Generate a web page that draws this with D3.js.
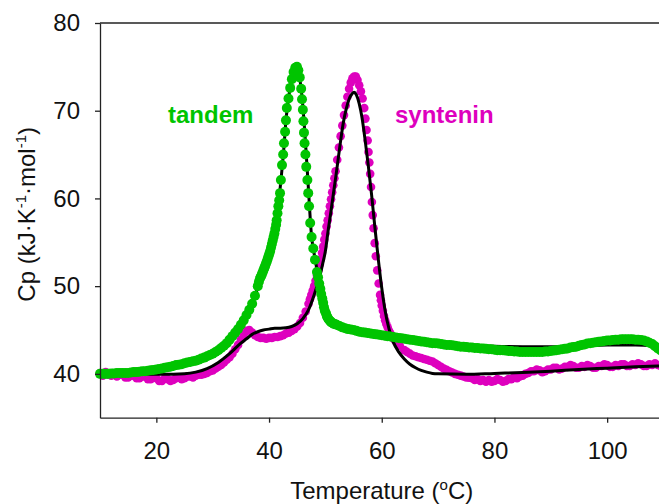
<!DOCTYPE html>
<html>
<head>
<meta charset="utf-8">
<script src="https://cdn.jsdelivr.net/npm/d3@7"></script>
<style>
  html, body { margin: 0; padding: 0; background: #fff; }
  svg { display: block; }
  text { font-family: "Liberation Sans", Arial, sans-serif; }
</style>
</head>
<body>
<svg id="chart" width="659" height="504"></svg>
<script>
// ---- data ----
const xTicks = [20, 40, 60, 80, 100];
const yTicks = [40, 50, 60, 70, 80];
const seriesNames = ["tandem", "syntenin"];

const tandemT = [10,10.5,11,11.5,12,12.5,13,13.5,14,14.5,15,15.5,16,16.5,17,17.5,18,18.5,19,19.5,20,20.5,21,21.5,22,22.5,23,23.5,24,24.5,25,25.5,26,26.5,27,27.5,28,28.5,29,29.5,30,30.5,31,31.5,32,32.5,33,33.5,34,34.5,35,35.5,36,36.5,37,37.5,38,38.2,38.4,38.55,38.7,38.85,39.0,39.15,39.3,39.45,39.6,39.75,39.9,40.05,40.2,40.35,40.5,40.65,40.8,40.95,41.1,41.25,41.35,41.5,41.65,41.8,41.95,42.1,42.3,42.5,42.65,42.85,43.0,43.15,43.45,43.75,44.05,44.35,44.65,44.95,45.2,45.45,45.7,45.85,46.0,46.1,46.2,46.3,46.45,46.6,46.8,46.95,47.1,47.3,47.55,47.85,48.15,48.5,48.7,48.9,49.1,49.25,49.45,49.6,49.75,49.9,50.1,50.25,50.4,50.6,50.8,51.0,51.25,51.5,51.75,52,52.5,53,53.5,54,54.5,55,55.5,56,56.5,57,57.5,58,58.5,59,59.5,60,60.5,61,61.5,62,62.5,63,63.5,64,64.5,65,65.5,66,66.5,67,67.5,68,68.5,69,69.5,70,70.5,71,71.5,72,72.5,73,73.5,74,74.5,75,75.5,76,76.5,77,77.5,78,78.5,79,79.5,80,80.5,81,81.5,82,82.5,83,83.5,84,84.5,85,85.5,86,86.5,87,87.5,88,88.5,89,89.5,90,90.5,91,91.5,92,92.5,93,93.5,94,94.5,95,95.5,96,96.5,97,97.5,98,98.5,99,99.5,100,100.5,101,101.5,102,102.5,103,103.5,104,104.5,105,105.5,106,106.5,107,107.5,108,108.5,109,109.5,110];
const tandemCp = [40.0,40.0,40.0,40.0,40.05,40.05,40.1,40.1,40.1,40.1,40.1,40.15,40.2,40.2,40.25,40.3,40.3,40.35,40.4,40.45,40.5,40.55,40.6,40.7,40.75,40.8,40.9,41.0,41.05,41.1,41.2,41.3,41.35,41.45,41.5,41.6,41.75,41.85,42.0,42.15,42.3,42.5,42.7,42.95,43.2,43.5,43.9,44.3,44.7,45.1,45.6,46.1,46.7,47.3,48.0,48.9,50.0,50.5,50.9,51.1,51.3,51.55,51.8,52.05,52.3,52.55,52.8,53.1,53.4,53.7,54.0,54.4,54.8,55.2,55.6,56.0,56.5,57.0,57.5,58.3,59.1,59.8,60.6,62.1,63.8,65.0,66.3,67.6,68.9,70.3,71.4,72.6,73.6,74.4,74.9,75.0,74.6,73.8,72.5,71.3,70.1,68.8,67.5,66.3,65.0,63.6,62.1,60.6,59.1,57.2,55.6,54.3,53.0,51.6,51.0,50.3,49.7,49.1,48.6,48.1,47.6,47.2,46.9,46.6,46.4,46.2,46.05,45.9,45.8,45.7,45.65,45.6,45.45,45.3,45.2,45.1,45.05,45.0,44.9,44.8,44.75,44.7,44.65,44.6,44.55,44.5,44.45,44.4,44.35,44.3,44.25,44.2,44.15,44.1,44.05,44.0,43.95,43.9,43.85,43.8,43.75,43.7,43.65,43.6,43.55,43.5,43.5,43.45,43.4,43.35,43.3,43.3,43.25,43.2,43.15,43.1,43.1,43.05,43.0,43.0,42.95,42.95,42.9,42.9,42.85,42.8,42.8,42.75,42.7,42.7,42.7,42.65,42.6,42.6,42.55,42.55,42.5,42.5,42.5,42.5,42.5,42.5,42.5,42.5,42.5,42.55,42.55,42.6,42.65,42.7,42.75,42.8,42.85,42.9,43.0,43.05,43.1,43.2,43.3,43.35,43.45,43.5,43.55,43.6,43.65,43.7,43.75,43.8,43.8,43.85,43.9,43.9,43.95,43.95,43.95,43.95,43.95,43.9,43.9,43.85,43.8,43.7,43.55,43.4,43.15,42.9,42.7,42.5];

const synteninT = [10,10.5,11,11.5,12,12.5,13,13.5,14,14.5,15,15.5,16,16.5,17,17.5,18,18.5,19,19.5,20,20.5,21,21.5,22,22.5,23,23.5,24,24.5,25,25.5,26,26.5,27,27.5,28,28.5,29,29.5,30,30.5,31,31.5,32,32.5,33,33.5,34,34.5,35,35.5,36,36.5,37,37.5,38,38.5,39,39.5,40,40.5,41,41.5,42,42.5,43,43.5,44,44.5,45,45.5,46,46.5,47,47.25,47.5,47.75,48,48.25,48.5,48.75,49,49.2,49.4,49.6,49.8,50.0,50.2,50.4,50.6,50.8,51.0,51.2,51.4,51.6,51.8,52.1,52.4,52.7,53.0,53.3,53.6,53.9,54.2,54.5,54.8,55.1,55.4,55.7,56.0,56.3,56.6,56.9,57.1,57.3,57.5,57.65,57.8,57.95,58.1,58.25,58.4,58.55,58.75,58.95,59.2,59.45,59.7,59.85,60.0,60.2,60.4,60.6,60.8,61.05,61.3,61.55,61.8,62.1,62.5,62.85,63.2,64,64.5,65,65.5,66,66.5,67,67.5,68,68.5,69,69.5,70,70.5,71,71.5,72,72.5,73,73.5,74,74.5,75,75.5,76,76.5,77,77.5,78,78.5,79,79.5,80,80.5,81,81.5,82,82.5,83,83.5,84,84.5,85,85.5,86,86.5,87,87.5,88,88.5,89,89.5,90,90.5,91,91.5,92,92.5,93,93.5,94,94.5,95,95.5,96,96.5,97,97.5,98,98.5,99,99.5,100,100.5,101,101.5,102,102.5,103,103.5,104,104.5,105,105.5,106,106.5,107,107.5,108,108.5,109,109.5,110];
const synteninCp = [40.1,39.8,40.2,39.9,39.8,40.0,39.7,39.9,39.9,39.6,39.6,39.8,39.8,39.5,39.5,39.7,39.7,39.4,39.4,39.6,39.5,39.2,39.2,39.5,39.4,39.2,39.3,39.5,39.6,39.4,39.5,39.7,39.7,39.6,39.8,39.9,39.9,40.0,40.1,40.3,40.4,40.6,40.8,41.0,41.3,41.6,41.9,42.3,42.8,43.3,43.9,44.5,44.9,45.0,44.7,44.4,44.2,44.1,44.1,44.0,44.1,44.1,44.2,44.2,44.3,44.4,44.6,44.7,44.9,45.1,45.4,45.8,46.4,47.1,48.0,48.5,49.0,49.5,50.0,50.6,51.2,51.8,52.5,53.1,53.8,54.5,55.3,56.0,56.8,57.5,58.3,59.1,59.9,60.7,61.5,62.3,63.1,64.4,65.8,67.1,68.3,69.5,70.6,71.6,72.5,73.2,73.7,73.9,73.9,73.5,72.9,72.2,71.4,70.3,69.1,67.8,66.6,65.3,64.1,62.8,61.3,59.6,58.1,56.6,54.9,53.4,51.8,50.3,49.0,48.4,47.8,47.2,46.6,46.1,45.7,45.3,44.9,44.6,44.3,44.0,43.7,43.45,43.2,42.7,42.5,42.3,42.1,42.0,41.9,41.8,41.7,41.6,41.5,41.4,41.2,41.0,40.8,40.6,40.45,40.3,40.15,40.0,39.9,39.8,39.7,39.6,39.55,39.5,39.3,39.4,39.2,39.3,39.1,39.3,39.1,39.2,39.4,39.3,39.1,39.2,39.4,39.4,39.6,39.5,39.7,39.8,40.0,40.1,40.3,40.3,40.5,40.4,40.2,40.3,40.5,40.5,40.7,40.7,40.5,40.6,40.8,40.8,41.0,40.9,40.7,40.7,40.9,40.8,41.0,40.9,40.7,40.7,40.9,40.9,41.1,41.0,40.8,40.8,41.0,40.9,41.1,41.1,40.9,40.9,41.1,41.0,41.2,41.1,40.9,40.9,41.1,41.0,41.2,41.0,40.9,41.1];

const tandemFitT = [10,20,25,30,33,36,38,39.9,40.8,41.6,42.1,42.6,43.0,43.5,44.0,44.6,45.1,45.6,46.0,46.4,46.9,47.5,48.2,48.9,49.6,50.5,52,55,60,65,70,75,80,85,90,95,100,105,108,110];
const tandemFitCp = [40.0,40.3,40.9,42.2,43.8,46.6,49.8,53.4,55.6,59.0,62.0,65.5,68.9,71.6,73.6,74.6,74.5,73.0,70.5,67.0,62.0,56.0,53.0,50.3,47.6,46.2,45.6,45.0,44.4,44.0,43.6,43.3,43.15,43.1,43.1,43.2,43.3,43.3,43.2,43.0];

const synteninFitT = [10,15,20,23,25,27,29,31,33,35,36,37,38,39,40,41,42,43,44,45,46,47,48,49,49.5,50,50.5,51,51.5,52,52.6,53.2,53.7,54.2,54.7,55.1,55.5,56.0,56.5,57.0,57.6,58.2,58.8,59.4,60.0,60.6,61.3,62,63,64,65,66,67,68,69,70,75,80,85,90,95,100,105,110];
const synteninFitCp = [40.0,40.0,39.95,39.95,40.0,40.2,40.6,41.3,42.3,43.5,44.0,44.5,44.8,45.0,45.1,45.2,45.2,45.25,45.4,45.7,46.3,47.3,49.0,51.1,52.5,54.0,56.4,58.6,60.9,63.2,66.1,68.7,70.2,71.3,71.9,72.1,71.8,70.8,69.2,66.9,63.8,60.4,56.6,53.0,49.8,47.2,45.1,43.7,42.5,41.7,41.1,40.7,40.4,40.2,40.05,40.0,39.95,40.05,40.15,40.3,40.5,40.65,40.8,40.9];

// ---- layout ----
const svg = d3.select("#chart");
const xDomain = [10, 110], yDomain = [35, 80];
const x = d3.scaleLinear().domain(xDomain).range([100, 663.5]);
const y = d3.scaleLinear().domain(yDomain).range([417.7, 23]);

const green = "#00c400", magenta = "#de00be";
const zip = (a, b) => a.map((t, i) => ({t, v: b[i]}));

const line = d3.line().x(d => x(d.t)).y(d => y(d.v)).curve(d3.curveMonotoneX);

const plot = svg.append("g");

// syntenin points
plot.append("g").selectAll("circle").data(zip(synteninT, synteninCp)).join("circle")
  .attr("cx", d => x(d.t)).attr("cy", d => y(d.v)).attr("r", 4.3).attr("fill", magenta);

// syntenin fit
plot.append("path").datum(zip(synteninFitT, synteninFitCp))
  .attr("d", line).attr("fill", "none").attr("stroke", "#000").attr("stroke-width", 3);

// tandem fit (under tandem points)
plot.append("path").datum(zip(tandemFitT, tandemFitCp))
  .attr("d", line).attr("fill", "none").attr("stroke", "#000").attr("stroke-width", 3);

// tandem points
plot.append("g").selectAll("circle").data(zip(tandemT, tandemCp)).join("circle")
  .attr("cx", d => x(d.t)).attr("cy", d => y(d.v)).attr("r", 5).attr("fill", green);

// ---- axes ----
const axisColor = "#222";
const fontSize = 24;

const gx = svg.append("g").attr("transform", `translate(0,${y(yDomain[0])})`)
  .call(d3.axisBottom(x).tickValues(xTicks).tickSize(5).tickSizeOuter(0).tickPadding(19));
const gy = svg.append("g").attr("transform", `translate(${x(xDomain[0])},0)`)
  .call(d3.axisLeft(y).tickValues(yTicks).tickSize(5).tickSizeOuter(0).tickPadding(15));

[gx, gy].forEach(g => {
  g.select(".domain").attr("stroke", axisColor).attr("stroke-width", 1.3);
  g.selectAll(".tick line").attr("stroke", axisColor).attr("stroke-width", 1.3);
  g.selectAll(".tick text").attr("font-size", fontSize).attr("fill", "#111")
    .attr("font-family", "'Liberation Sans', Arial, sans-serif");
});

// frame lines (top and right)
svg.append("line")
  .attr("x1", x(xDomain[0])).attr("x2", x(xDomain[1]))
  .attr("y1", y(yDomain[1])).attr("y2", y(yDomain[1]))
  .attr("stroke", axisColor).attr("stroke-width", 1.3);
svg.append("line")
  .attr("x1", x(xDomain[1])).attr("x2", x(xDomain[1]))
  .attr("y1", y(yDomain[1])).attr("y2", y(yDomain[0]))
  .attr("stroke", axisColor).attr("stroke-width", 1.3);

// x title
const xt = svg.append("text")
  .attr("x", x(60)).attr("y", 499).attr("text-anchor", "middle")
  .attr("font-size", fontSize).attr("fill", "#111");
xt.append("tspan").text("Temperature (");
xt.append("tspan").text("o").attr("font-size", 15).attr("dy", -9);
xt.append("tspan").text("C)").attr("dy", 9);

// y title
const yt = svg.append("text")
  .attr("transform", `translate(35,${(y(yDomain[0]) + y(yDomain[1])) / 2 - 6}) rotate(-90)`)
  .attr("text-anchor", "middle").attr("font-size", fontSize).attr("fill", "#111");
yt.append("tspan").text("Cp (kJ\u00b7K");
yt.append("tspan").text("-1").attr("font-size", 15).attr("dy", -9);
yt.append("tspan").text("\u00b7mol").attr("dy", 9);
yt.append("tspan").text("-1").attr("font-size", 15).attr("dy", -9);
yt.append("tspan").text(")").attr("dy", 9);

// series labels
svg.append("text").attr("x", 168).attr("y", 123).text(seriesNames[0])
  .attr("font-size", fontSize).attr("font-weight", "bold").attr("fill", green);
svg.append("text").attr("x", 395).attr("y", 123).text(seriesNames[1])
  .attr("font-size", fontSize).attr("font-weight", "bold").attr("fill", magenta);
</script>
</body>
</html>
